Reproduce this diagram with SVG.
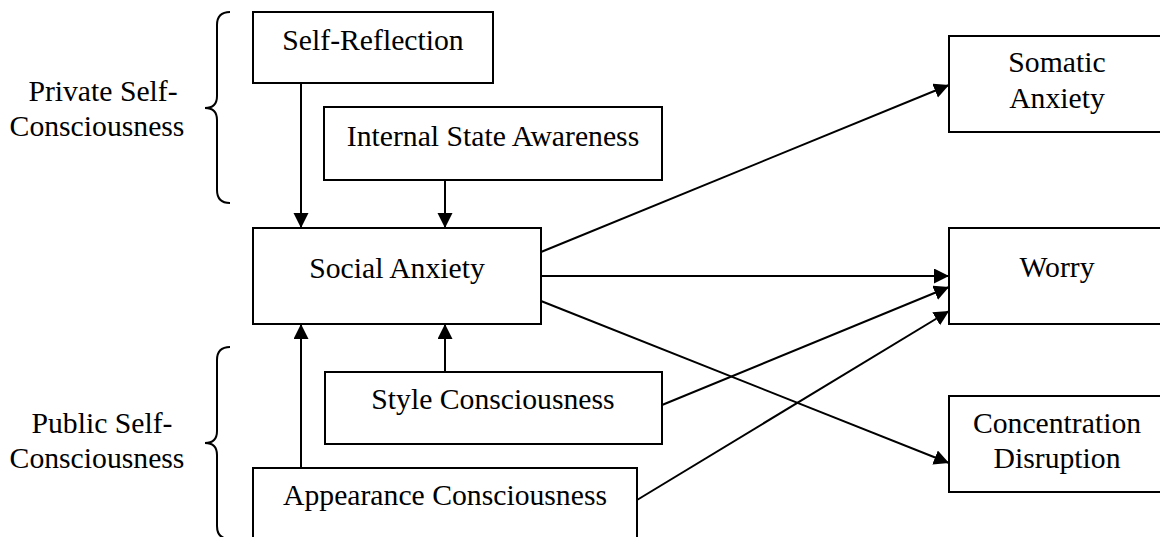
<svg xmlns="http://www.w3.org/2000/svg" width="1160" height="537" viewBox="0 0 1160 537">
  <style>
    .box { fill: #ffffff; stroke: #000000; stroke-width: 2; }
    .lbl { font-family: "Liberation Serif", "Times New Roman", serif; font-size: 29.7px; fill: #000000; text-anchor: middle; }
    .edge { stroke: #000000; stroke-width: 2; fill: none; marker-end: url(#arr); }
    .brace { stroke: #000000; stroke-width: 2; fill: none; }
  </style>
  <defs>
    <marker id="arr" markerUnits="userSpaceOnUse" markerWidth="16" markerHeight="16" refX="15" refY="7.5" orient="auto">
      <path d="M0,0 L15,7.5 L0,15 z" fill="#000000"/>
    </marker>
  </defs>
  <rect width="1160" height="537" fill="#ffffff"/>

  <g id="private-label">
    <path class="brace" d="M230,12 Q217,12 217,25 L217,96 Q217,108 205,108 Q217,108 217,120 L217,190 Q217,203 230,203"/>
    <text class="lbl" x="103" y="101">Private Self-</text>
    <text class="lbl" x="97" y="136">Consciousness</text>
  </g>
  <g id="public-label">
    <path class="brace" d="M230,347 Q217,347 217,360 L217,431 Q217,443 205,443 Q217,443 217,455 L217,526 Q217,539 230,539"/>
    <text class="lbl" x="102" y="433">Public Self-</text>
    <text class="lbl" x="97" y="468">Consciousness</text>
  </g>

  <g id="connectors">
    <line class="edge" x1="301" y1="83" x2="301" y2="228"/>
    <line class="edge" x1="445" y1="180" x2="445" y2="228"/>
    <line class="edge" x1="301" y1="468" x2="301" y2="324"/>
    <line class="edge" x1="445" y1="372" x2="445" y2="324"/>
    <line class="edge" x1="541" y1="252" x2="949" y2="85"/>
    <line class="edge" x1="541" y1="276" x2="949" y2="276"/>
    <line class="edge" x1="541" y1="301" x2="949" y2="463"/>
    <line class="edge" x1="662" y1="405" x2="949" y2="287"/>
    <line class="edge" x1="637" y1="500" x2="949" y2="311"/>
  </g>

  <g id="self-reflection">
    <rect class="box" x="253" y="12" width="240" height="71"/>
    <text class="lbl" x="373" y="50">Self-Reflection</text>
  </g>
  <g id="internal-state-awareness">
    <rect class="box" x="324" y="107" width="338" height="73"/>
    <text class="lbl" x="493" y="146">Internal State Awareness</text>
  </g>
  <g id="social-anxiety">
    <rect class="box" x="253" y="228" width="288" height="96"/>
    <text class="lbl" x="397" y="278">Social Anxiety</text>
  </g>
  <g id="style-consciousness">
    <rect class="box" x="325" y="372" width="337" height="72"/>
    <text class="lbl" x="493" y="409">Style Consciousness</text>
  </g>
  <g id="appearance-consciousness">
    <rect class="box" x="253" y="468" width="384" height="80"/>
    <text class="lbl" x="445" y="505">Appearance Consciousness</text>
  </g>
  <g id="somatic-anxiety">
    <rect class="box" x="949" y="36" width="220" height="96"/>
    <text class="lbl" x="1057" y="72">Somatic</text>
    <text class="lbl" x="1057" y="108">Anxiety</text>
  </g>
  <g id="worry">
    <rect class="box" x="949" y="228" width="220" height="96"/>
    <text class="lbl" x="1057" y="277">Worry</text>
  </g>
  <g id="concentration-disruption">
    <rect class="box" x="949" y="396" width="220" height="96"/>
    <text class="lbl" x="1057" y="433">Concentration</text>
    <text class="lbl" x="1057" y="468">Disruption</text>
  </g>
</svg>
